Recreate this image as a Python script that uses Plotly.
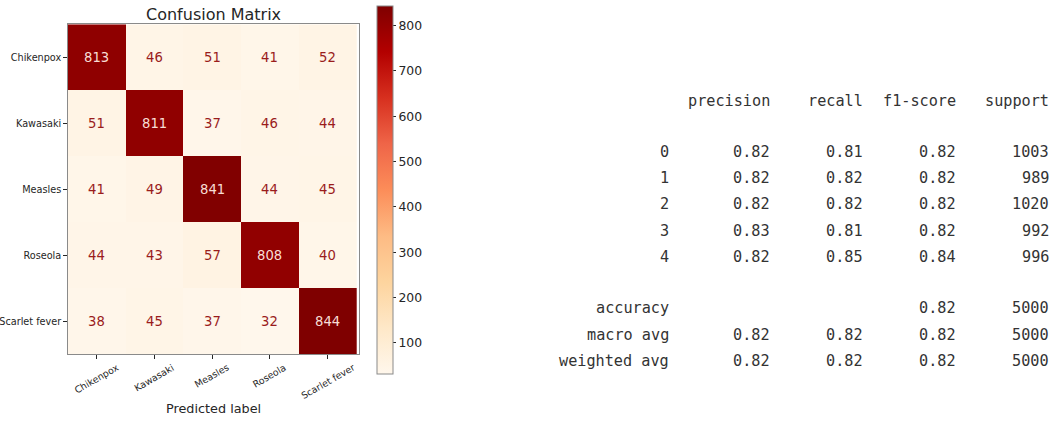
import plotly.graph_objects as go

# ---- data -------------------------------------------------------------
labels = ["Chikenpox", "Kawasaki", "Measles", "Roseola", "Scarlet fever"]
confusion = [
    [813, 46, 51, 41, 52],
    [51, 811, 37, 46, 44],
    [41, 49, 841, 44, 45],
    [44, 43, 57, 808, 40],
    [38, 45, 37, 32, 844],
]
colorbar_ticks = [100, 200, 300, 400, 500, 600, 700, 800]

report_header = ["precision", "recall", "f1-score", "support"]
report_classes = ["0", "1", "2", "3", "4"]
precision = [0.82, 0.82, 0.82, 0.83, 0.82]
recall = [0.81, 0.82, 0.82, 0.81, 0.85]
f1_score = [0.82, 0.82, 0.82, 0.82, 0.84]
support = [1003, 989, 1020, 992, 996]
summary_rows = ["accuracy", "macro avg", "weighted avg"]
summary_precision = [None, 0.82, 0.82]
summary_recall = [None, 0.82, 0.82]
summary_f1 = [0.82, 0.82, 0.82]
summary_support = [5000, 5000, 5000]

# ---- canvas helpers ---------------------------------------------------
W, H = 1059, 421


def px(x):
    return x / W


def py(y):
    return 1 - y / H


SANS = "DejaVu Sans"
MONO = "DejaVu Sans Mono"
DARK = "#262626"
FRAME = "#8a8a8a"

fig = go.Figure()

zmin = min(min(r) for r in confusion)
zmax = max(max(r) for r in confusion)

fig.add_trace(go.Heatmap(
    z=confusion,
    x=labels,
    y=labels,
    colorscale="OrRd",
    zmin=zmin,
    zmax=zmax,
    hoverinfo="skip",
    colorbar=dict(
        x=px(377), xanchor="left",
        y=py(5.7), yanchor="top",
        lenmode="pixels", len=368,
        thicknessmode="pixels", thickness=16,
        outlinecolor=FRAME, outlinewidth=1,
        tickvals=colorbar_ticks,
        ticks="outside", ticklen=3, tickcolor=DARK, tickwidth=1,
        tickfont=dict(family=SANS, size=12.4, color=DARK),
        xpad=0, ypad=0,
    ),
))

# value labels inside the cells: light text on dark cells, dark text on light cells
threshold = (zmax + zmin) / 2
annotations = []
for i, row in enumerate(confusion):
    for j, v in enumerate(row):
        annotations.append(dict(
            x=labels[j], y=labels[i], xref="x", yref="y",
            text=str(v), showarrow=False,
            font=dict(family=SANS, size=13.2,
                      color="#f8ddd5" if v > threshold else "#9a1c1c"),
        ))

# rotated predicted-class labels under the matrix
for lab in labels:
    annotations.append(dict(
        x=lab, xref="x", y=py(359), yref="paper",
        text=lab, showarrow=False, textangle=-30,
        xanchor="center", yanchor="top",
        font=dict(family=SANS, size=9.4, color=DARK),
    ))

annotations.append(dict(
    x=px(213.5), y=py(14), xref="paper", yref="paper",
    text="Confusion Matrix", showarrow=False,
    xanchor="center", yanchor="middle",
    font=dict(family=SANS, size=16, color=DARK),
))
annotations.append(dict(
    x=px(213.5), y=py(408), xref="paper", yref="paper",
    text="Predicted label", showarrow=False,
    xanchor="center", yanchor="middle",
    font=dict(family=SANS, size=12.8, color=DARK),
))

# ---- classification report -------------------------------------------
col_right = [772, 865, 958, 1051]
label_right = 671
TXT = "#333333"


def report_text(x, y, s):
    annotations.append(dict(
        x=px(x), y=py(y), xref="paper", yref="paper",
        text=s, showarrow=False, xanchor="right", yanchor="middle",
        font=dict(family=MONO, size=15.2, color=TXT),
    ))


for cx, h in zip(col_right, report_header):
    report_text(cx, 100.7, h)

class_rows_y = [151.7, 178.0, 204.3, 230.7, 257.0]
for k, cy in enumerate(class_rows_y):
    report_text(label_right, cy, report_classes[k])
    report_text(col_right[0], cy, f"{precision[k]:.2f}")
    report_text(col_right[1], cy, f"{recall[k]:.2f}")
    report_text(col_right[2], cy, f"{f1_score[k]:.2f}")
    report_text(col_right[3], cy, str(support[k]))

summary_y = [308.3, 334.7, 360.7]
for k, cy in enumerate(summary_y):
    report_text(label_right, cy, summary_rows[k])
    if summary_precision[k] is not None:
        report_text(col_right[0], cy, f"{summary_precision[k]:.2f}")
    if summary_recall[k] is not None:
        report_text(col_right[1], cy, f"{summary_recall[k]:.2f}")
    report_text(col_right[2], cy, f"{summary_f1[k]:.2f}")
    report_text(col_right[3], cy, str(summary_support[k]))

fig.update_layout(
    width=W, height=H,
    margin=dict(l=0, r=0, t=0, b=0, autoexpand=False),
    paper_bgcolor="white", plot_bgcolor="white",
    template="none",
    showlegend=False,
    annotations=annotations,
    xaxis=dict(
        domain=[px(67.7), px(359)],
        showticklabels=False,
        ticks="outside", ticklen=3.5, tickcolor=DARK, tickwidth=1,
        showline=True, mirror=True, linecolor=FRAME, linewidth=1,
        showgrid=False, zeroline=False, automargin=False,
    ),
    yaxis=dict(
        domain=[py(354.3), py(24.3)],
        autorange="reversed",
        ticks="outside", ticklen=3.5, tickcolor=DARK, tickwidth=1,
        tickfont=dict(family=SANS, size=9.7, color=DARK),
        showline=True, mirror=True, linecolor=FRAME, linewidth=1,
        showgrid=False, zeroline=False, automargin=False,
    ),
)

fig.write_html("out.html")
